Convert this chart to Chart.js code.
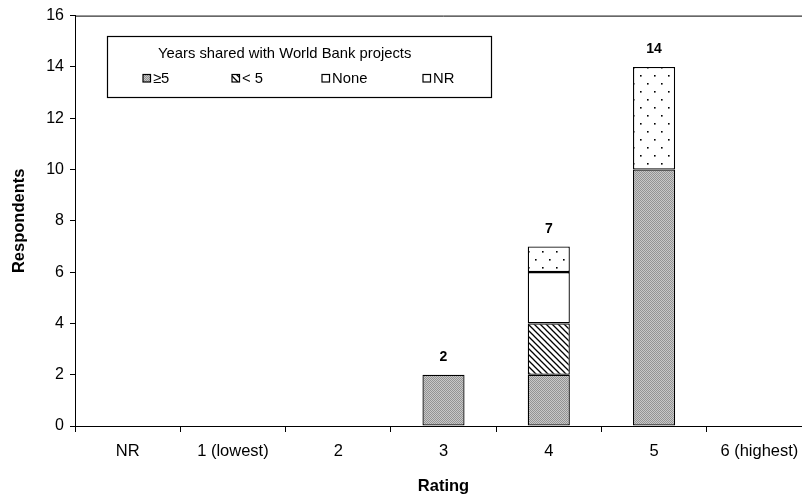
<!DOCTYPE html>
<html>
<head>
<meta charset="utf-8">
<script src="https://cdn.jsdelivr.net/npm/chart.js@4/dist/chart.umd.min.js"></script>
<style>
  html, body { margin: 0; padding: 0; overflow: hidden; background: #fff; }
  #wrap { width: 820px; height: 497px; }
</style>
</head>
<body>
<div id="wrap"><canvas id="c" width="820" height="497"></canvas></div>
<script>
// Ratings given by respondents, stacked by years shared with World Bank projects
const categories = ["NR", "1 (lowest)", "2", "3", "4", "5", "6 (highest)"];
const yearsAtLeast5 = [null, null, null, 2, 2, 10, null];
const yearsUnder5   = [null, null, null, null, 2, null, null];
const yearsNone     = [null, null, null, null, 2, null, null];
const yearsNR       = [null, null, null, null, 1, 4, null];
const seriesNames = ["\u22655", "< 5", "None", "NR"];
const legendTitle = "Years shared with World Bank projects";
const yTicks = [0, 2, 4, 6, 8, 10, 12, 14, 16];

const FONT = "'Liberation Sans', Arial, sans-serif";

function makePattern(w, h, paint) {
  const c = document.createElement('canvas');
  c.width = w; c.height = h;
  const g = c.getContext('2d');
  paint(g);
  return g.createPattern(c, 'repeat');
}
// fine grey stipple
const greyFill = makePattern(2, 2, g => {
  g.fillStyle = '#c8c8c8'; g.fillRect(0, 0, 2, 2);
  g.fillStyle = '#939393'; g.fillRect(0, 0, 1, 1); g.fillRect(1, 1, 1, 1);
});
// backslash hatching
const hatchFill = makePattern(6, 6, g => {
  g.fillStyle = '#fff'; g.fillRect(0, 0, 6, 6);
  g.strokeStyle = '#000'; g.lineWidth = 1.3;
  g.beginPath();
  g.moveTo(-1, -1); g.lineTo(7, 7);
  g.moveTo(-1, 5); g.lineTo(1, 7);
  g.moveTo(5, -1); g.lineTo(7, 1);
  g.stroke();
});
// sparse dots
const dotFill = makePattern(14, 16, g => {
  g.fillStyle = '#fff'; g.fillRect(0, 0, 14, 16);
  g.fillStyle = '#000';
  g.fillRect(3, 3, 1.6, 1.6);
  g.fillRect(10, 11, 1.6, 1.6);
});
const fills = [greyFill, hatchFill, '#ffffff', dotFill];
const seriesData = [yearsAtLeast5, yearsUnder5, yearsNone, yearsNR];

const datasets = seriesData.map((d, i) => ({
  label: seriesNames[i],
  data: d,
  backgroundColor: fills[i],
  borderColor: '#000',
  borderWidth: 1.3,
  borderSkipped: false,
  categoryPercentage: 1,
  barPercentage: 0.4
}));

// totals above each stack, top frame line and the boxed legend
const extras = {
  id: 'extras',
  afterDatasetsDraw(chart) {
    const ctx = chart.ctx;
    const xs = chart.scales.x, ys = chart.scales.y;
    const area = chart.chartArea;
    ctx.save();
    // top frame
    ctx.strokeStyle = '#000';
    ctx.lineWidth = 1;
    ctx.beginPath();
    ctx.moveTo(area.left, area.top + 0.5);
    ctx.lineTo(area.right, area.top + 0.5);
    ctx.stroke();

    // totals
    ctx.fillStyle = '#000';
    ctx.font = 'bold 14px ' + FONT;
    ctx.textAlign = 'center';
    ctx.textBaseline = 'alphabetic';
    categories.forEach((c, i) => {
      const total = seriesData.reduce((s, arr) => s + (arr[i] || 0), 0);
      if (total > 0) {
        ctx.fillText(String(total), xs.getPixelForValue(i), ys.getPixelForValue(total) - 13.5);
      }
    });

    // legend box
    const bx = 107, by = 36, bw = 384, bh = 61;
    ctx.fillStyle = '#fff';
    ctx.fillRect(bx, by, bw, bh);
    ctx.strokeStyle = '#000';
    ctx.lineWidth = 1.2;
    ctx.strokeRect(bx + 0.5, by + 0.5, bw, bh);
    ctx.fillStyle = '#000';
    ctx.font = '14.8px ' + FONT;
    ctx.textAlign = 'left';
    ctx.textBaseline = 'middle';
    ctx.fillText(legendTitle, 158, 54);
    const itemX = [143, 232, 322, 423];
    seriesNames.forEach((name, i) => {
      const sx = itemX[i], sy = 74.5;
      ctx.fillStyle = fills[i];
      ctx.fillRect(sx, sy, 7.5, 7.5);
      ctx.strokeStyle = '#000';
      ctx.lineWidth = 1.2;
      ctx.strokeRect(sx, sy, 7.5, 7.5);
      ctx.fillStyle = '#000';
      ctx.fillText(name, sx + 10, 79);
    });
    ctx.restore();
  }
};

new Chart(document.getElementById('c'), {
  type: 'bar',
  data: { labels: categories, datasets },
  options: {
    responsive: false,
    animation: false,
    layout: { padding: { top: 15, right: 8, left: 0, bottom: 0 } },
    plugins: { legend: { display: false }, tooltip: { enabled: false } },
    scales: {
      x: {
        stacked: true,
        afterFit(scale) { scale.height = 71; },
        grid: { offset: true, drawOnChartArea: false, drawTicks: true, tickLength: 6, color: '#000', lineWidth: 1 },
        border: { display: true, color: '#000', width: 1 },
        ticks: { color: '#000', font: { family: FONT, size: 16.5 }, padding: 10, maxRotation: 0, autoSkip: false },
        title: { display: true, text: 'Rating', color: '#000', font: { family: FONT, size: 16.5, weight: 'bold' }, padding: { top: 0, bottom: 1 } }
      },
      y: {
        stacked: true,
        min: 0, max: 16,
        afterFit(scale) { scale.width = 75; },
        afterBuildTicks(scale) { scale.ticks = yTicks.map(v => ({ value: v })); },
        grid: { drawOnChartArea: false, drawTicks: true, tickLength: 5, color: '#000', lineWidth: 1 },
        border: { display: true, color: '#000', width: 1 },
        ticks: { color: '#000', font: { family: FONT, size: 16 }, padding: 6 },
        title: { display: true, text: 'Respondents', color: '#000', font: { family: FONT, size: 16.5, weight: 'bold' }, padding: { top: 10, bottom: 0 } }
      }
    }
  },
  plugins: [extras]
});
</script>
</body>
</html>
